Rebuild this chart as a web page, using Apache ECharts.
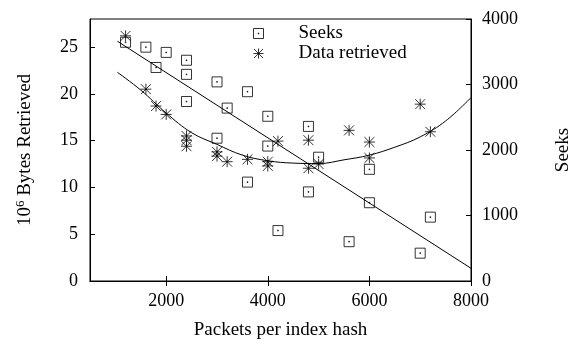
<!DOCTYPE html>
<html>
<head>
<meta charset="utf-8">
<script src="https://cdn.jsdelivr.net/npm/echarts@6/dist/echarts.min.js"></script>
<style>
html,body{margin:0;padding:0;background:#fff;}
#c{width:568px;height:339px;}
</style>
</head>
<body>
<div id="c"></div>
<script>
// Seeks (squares, right axis)
var seekX = [1200,1600,1800,2000,2400,2400,2400,3000,3000,3200,3600,3600,4000,4000,4200,4800,4800,5000,5600,6000,6000,7000,7200];
var seekY = [3645,3570,3260,3490,3370,3155,2740,3040,2180,2640,2890,1510,2515,2060,770,2360,1360,1890,600,1705,1195,425,975];
// Data retrieved (asterisks, left axis, 10^6 bytes)
var dataX = [1200,1600,1800,2000,2400,2400,2400,3000,3000,3200,3600,4000,4000,4200,4800,4800,5000,5600,6000,6000,7000,7200];
var dataY = [26.2,20.5,18.7,17.8,15.5,15.05,14.4,13.8,13.35,12.75,13.0,12.75,12.3,14.95,15.05,12.05,12.5,16.1,14.85,13.15,18.9,15.95];
// Fitted curves
var seekFitX = [1040,8000];
var seekFitY = [3660,194];
var dataFitX = [1040,1500,2000,2500,3000,3500,4000,4500,5000,5500,6000,6500,7000,7500,8000];
var dataFitY = [22.3,20.4,17.95,15.85,14.6,13.45,12.85,12.6,12.55,12.95,13.45,14.3,15.4,17.1,19.6];
// Tick labels
var xTicks = [2000,4000,6000,8000];
var yLeftTicks = [0,5,10,15,20,25];
var yRightTicks = [0,1000,2000,3000,4000];

function pairs(xs, ys){ return xs.map(function(x,i){ return [x, ys[i]]; }); }
function plain(v){ return String(v); }

var FONT = 'Liberation Serif';
var squarePath = 'path://M0,0H10V10H0Z M4.6,4.6H5.4V5.4H4.6Z';
var starPath = 'path://M0,5H10M5,0V10M0.5,0.5L9.5,9.5M9.5,0.5L0.5,9.5';
var txt = {color:'#000', fontFamily: FONT, fontSize: 19};

var chart = echarts.init(document.getElementById('c'), null, {renderer:'canvas'});
chart.setOption({
  animation: false,
  backgroundColor: '#fff',
  grid: {left: 90, right: 97, top: 19, bottom: 58, containLabel: false, outerBoundsMode: 'none',
         show: true, borderColor: '#000', borderWidth: 1, backgroundColor: 'transparent'},
  legend: {
    orient: 'vertical', left: 253, top: 24, padding: 0, itemGap: 1,
    itemWidth: 10, itemHeight: 10,
    textStyle: {color:'#000', fontFamily: FONT, fontSize: 19, lineHeight: 19, padding: [0,0,0,30]},
    itemStyle: {color: 'transparent', borderColor: '#000', borderWidth: 1},
    data: [{name: 'Seeks', icon: squarePath}, {name: 'Data retrieved', icon: starPath}]
  },
  xAxis: [{
    type: 'value', min: 500, max: 8000, position: 'bottom',
    axisLine: {show: true, lineStyle: {color:'#000', width: 1}},
    axisTick: {show: true, inside: true, length: 5, customValues: xTicks, lineStyle: {color:'#000'}},
    axisLabel: {show: true, customValues: xTicks, formatter: plain, margin: 11, color:'#000', fontFamily: FONT, fontSize: 18},
    splitLine: {show: false},
    name: 'Packets per index hash', nameLocation: 'middle', nameGap: 40,
    nameTextStyle: txt
  }, {
    type: 'value', min: 500, max: 8000, position: 'top',
    axisLine: {show: true, lineStyle: {color:'#000', width: 1}},
    axisTick: {show: true, inside: true, length: 5, customValues: xTicks, lineStyle: {color:'#000'}},
    axisLabel: {show: false},
    splitLine: {show: false}
  }],
  yAxis: [{
    type: 'value', min: 0, max: 28, position: 'left',
    axisLine: {show: true, lineStyle: {color:'#000', width: 1}},
    axisTick: {show: true, inside: true, length: 5, customValues: yLeftTicks, lineStyle: {color:'#000'}},
    axisLabel: {show: true, customValues: yLeftTicks, formatter: plain, margin: 12, color:'#000', fontFamily: FONT, fontSize: 18},
    splitLine: {show: false},
    name: '{a|10}{s|6}{a| Bytes Retrieved}', nameLocation: 'middle', nameGap: 55, nameRotate: 90,
    nameTextStyle: {color:'#000', fontFamily: FONT, fontSize: 19,
      rich: {a: {color:'#000', fontFamily: FONT, fontSize: 19, verticalAlign: 'bottom', lineHeight: 21},
             s: {color:'#000', fontFamily: FONT, fontSize: 13, verticalAlign: 'top', lineHeight: 21, padding: [0,0,6,0]}}}
  }, {
    type: 'value', min: 0, max: 4000, interval: 1000, position: 'right',
    axisLine: {show: true, lineStyle: {color:'#000', width: 1}},
    axisTick: {show: true, inside: true, length: 5, customValues: yRightTicks, lineStyle: {color:'#000'}},
    axisLabel: {show: true, customValues: yRightTicks, formatter: plain, margin: 11, color:'#000', fontFamily: FONT, fontSize: 18},
    splitLine: {show: false},
    name: 'Seeks', nameLocation: 'middle', nameGap: 83, nameRotate: 90,
    nameTextStyle: txt
  }],
  series: [{
    name: 'Seeks', type: 'scatter', xAxisIndex: 0, yAxisIndex: 1,
    symbol: squarePath, symbolSize: 10,
    itemStyle: {color: 'transparent', borderColor: '#000', borderWidth: 1},
    data: pairs(seekX, seekY), z: 3
  }, {
    name: 'Data retrieved', type: 'scatter', xAxisIndex: 0, yAxisIndex: 0,
    symbol: starPath, symbolSize: 11,
    itemStyle: {color: 'transparent', borderColor: '#000', borderWidth: 1},
    data: pairs(dataX, dataY), z: 3
  }, {
    name: 'seekFit', type: 'line', xAxisIndex: 0, yAxisIndex: 1,
    showSymbol: false, symbol: 'none', silent: true,
    lineStyle: {color:'#000', width: 1},
    data: pairs(seekFitX, seekFitY), z: 2
  }, {
    name: 'dataFit', type: 'line', xAxisIndex: 0, yAxisIndex: 0,
    showSymbol: false, symbol: 'none', smooth: 0.4, silent: true,
    lineStyle: {color:'#000', width: 1},
    data: pairs(dataFitX, dataFitY), z: 2
  }]
});
</script>
</body>
</html>
